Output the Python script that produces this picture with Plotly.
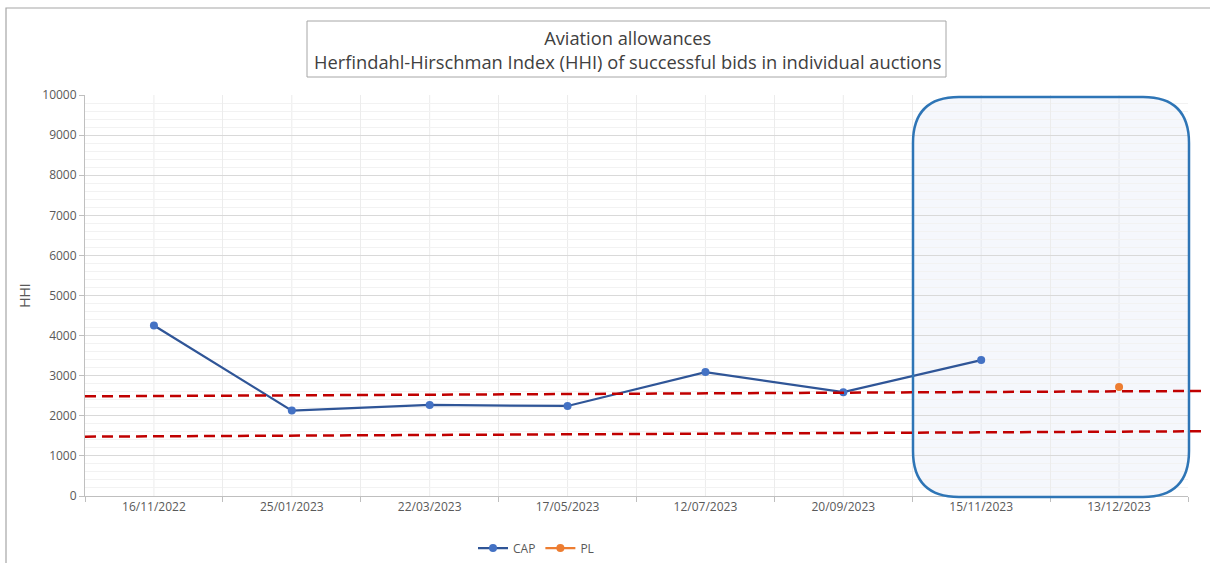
import plotly.graph_objects as go

# ---- data ----
auction_dates = ["16/11/2022", "25/01/2023", "22/03/2023", "17/05/2023",
                 "12/07/2023", "20/09/2023", "15/11/2023", "13/12/2023"]
cap_dates = auction_dates[:7]
cap_hhi = [4250, 2130, 2270, 2245, 3090, 2590, 3390]
pl_dates = ["13/12/2023"]
pl_hhi = [2720]
upper_threshold = [2485, 2620]   # hand-drawn dashed line, left -> right
lower_threshold = [1480, 1615]

title_lines = ["Aviation allowances",
               "Herfindahl-Hirschman Index (HHI) of successful bids in individual auctions"]

FONT = "Open Sans"
W, H = 1210, 563
ML, MR, MT, MB = 85, 22, 95, 67
PW, PH = W - ML - MR, H - MT - MB


def px_x(p):  # pixel -> paper x
    return (p - ML) / PW


def px_y(p):  # pixel -> paper y
    return (H - MB - p) / PH


fig = go.Figure()
fig.add_trace(go.Scatter(
    x=cap_dates, y=cap_hhi, name="CAP", mode="lines+markers",
    line=dict(color="#2f5597", width=2.25),
    marker=dict(color="#4472c4", size=8),
))
fig.add_trace(go.Scatter(
    x=pl_dates, y=pl_hhi, name="PL", mode="lines+markers",
    line=dict(color="#ed7d31", width=2.25),
    marker=dict(color="#ed7d31", size=8),
))

shapes = []
# vertical gridlines at category centres
for d in auction_dates:
    shapes.append(dict(type="line", xref="x", yref="paper", x0=d, x1=d, y0=0, y1=1,
                       line=dict(color="#ececec", width=1), layer="below"))

# rounded highlight box
x0, x1 = px_x(913), px_x(1189)
y0, y1 = px_y(497), px_y(97)
rx, ry = 46 / PW, 46 / PH
path = (f"M {x0+rx},{y1} L {x1-rx},{y1} Q {x1},{y1} {x1},{y1-ry} "
        f"L {x1},{y0+ry} Q {x1},{y0} {x1-rx},{y0} L {x0+rx},{y0} "
        f"Q {x0},{y0} {x0},{y0+ry} L {x0},{y1-ry} Q {x0},{y1} {x0+rx},{y1} Z")
shapes.append(dict(type="path", xref="paper", yref="paper", path=path,
                   fillcolor="rgba(214,224,242,0.25)", line=dict(width=0), layer="below"))
shapes.append(dict(type="path", xref="paper", yref="paper", path=path,
                   fillcolor="rgba(0,0,0,0)", line=dict(color="#2e75b6", width=2.5), layer="above"))

# dashed threshold lines
for thr in (upper_threshold, lower_threshold):
    shapes.append(dict(type="line", xref="paper", yref="y", x0=0, x1=px_x(1206),
                       y0=thr[0], y1=thr[1],
                       line=dict(color="#c00000", width=2.5, dash="11px,6px"), layer="above"))

# title box
shapes.append(dict(type="rect", xref="paper", yref="paper",
                   x0=px_x(307), x1=px_x(946), y0=px_y(77), y1=px_y(21),
                   line=dict(color="#a6a6a6", width=1), fillcolor="white", layer="above"))
# outer chart border
shapes.append(dict(type="rect", xref="paper", yref="paper",
                   x0=px_x(6), x1=px_x(1215), y0=px_y(575), y1=px_y(8),
                   line=dict(color="#a6a6a6", width=1.2), fillcolor="rgba(0,0,0,0)", layer="above"))

fig.update_layout(
    width=W, height=H,
    margin=dict(l=ML, r=MR, t=MT, b=MB, autoexpand=False),
    paper_bgcolor="white", plot_bgcolor="white",
    font=dict(family=FONT, color="#595959", size=12),
    shapes=shapes,
    annotations=[dict(
        xref="paper", yref="paper", x=px_x(627), y=px_y(49),
        xanchor="center", yanchor="middle", showarrow=False,
        text="<br>".join(title_lines),
        font=dict(family=FONT, size=18.3, color="#404040"),
    )],
    showlegend=True,
    legend=dict(orientation="h", x=px_x(473), xanchor="left", y=px_y(548), yanchor="middle",
                font=dict(size=12, color="#595959"), bgcolor="rgba(0,0,0,0)",
                tracegroupgap=0, itemwidth=30),
    xaxis=dict(type="category", categoryorder="array", categoryarray=auction_dates,
               range=[-0.5, 7.5], tickson="boundaries", ticks="outside", ticklen=5,
               tickcolor="#bfbfbf", showline=True, linecolor="#bfbfbf", linewidth=1,
               showgrid=True, gridcolor="#ececec", zeroline=False,
               tickfont=dict(size=12, color="#595959")),
    yaxis=dict(range=[0, 10000], dtick=1000, tickformat="d", ticks="outside", ticklen=5,
               tickcolor="#bfbfbf", showline=True, linecolor="#bfbfbf", linewidth=1,
               showgrid=True, gridcolor="#d9d9d9", zeroline=False,
               minor=dict(dtick=200, showgrid=True, gridcolor="#f2f2f2"),
               tickfont=dict(size=12, color="#595959"),
               title=dict(text="HHI", font=dict(size=14, color="#595959"), standoff=8)),
)

fig.write_html("out.html", config={"displayModeBar": False},
               post_script="document.body.style.margin='0';document.body.style.overflow='hidden';")
